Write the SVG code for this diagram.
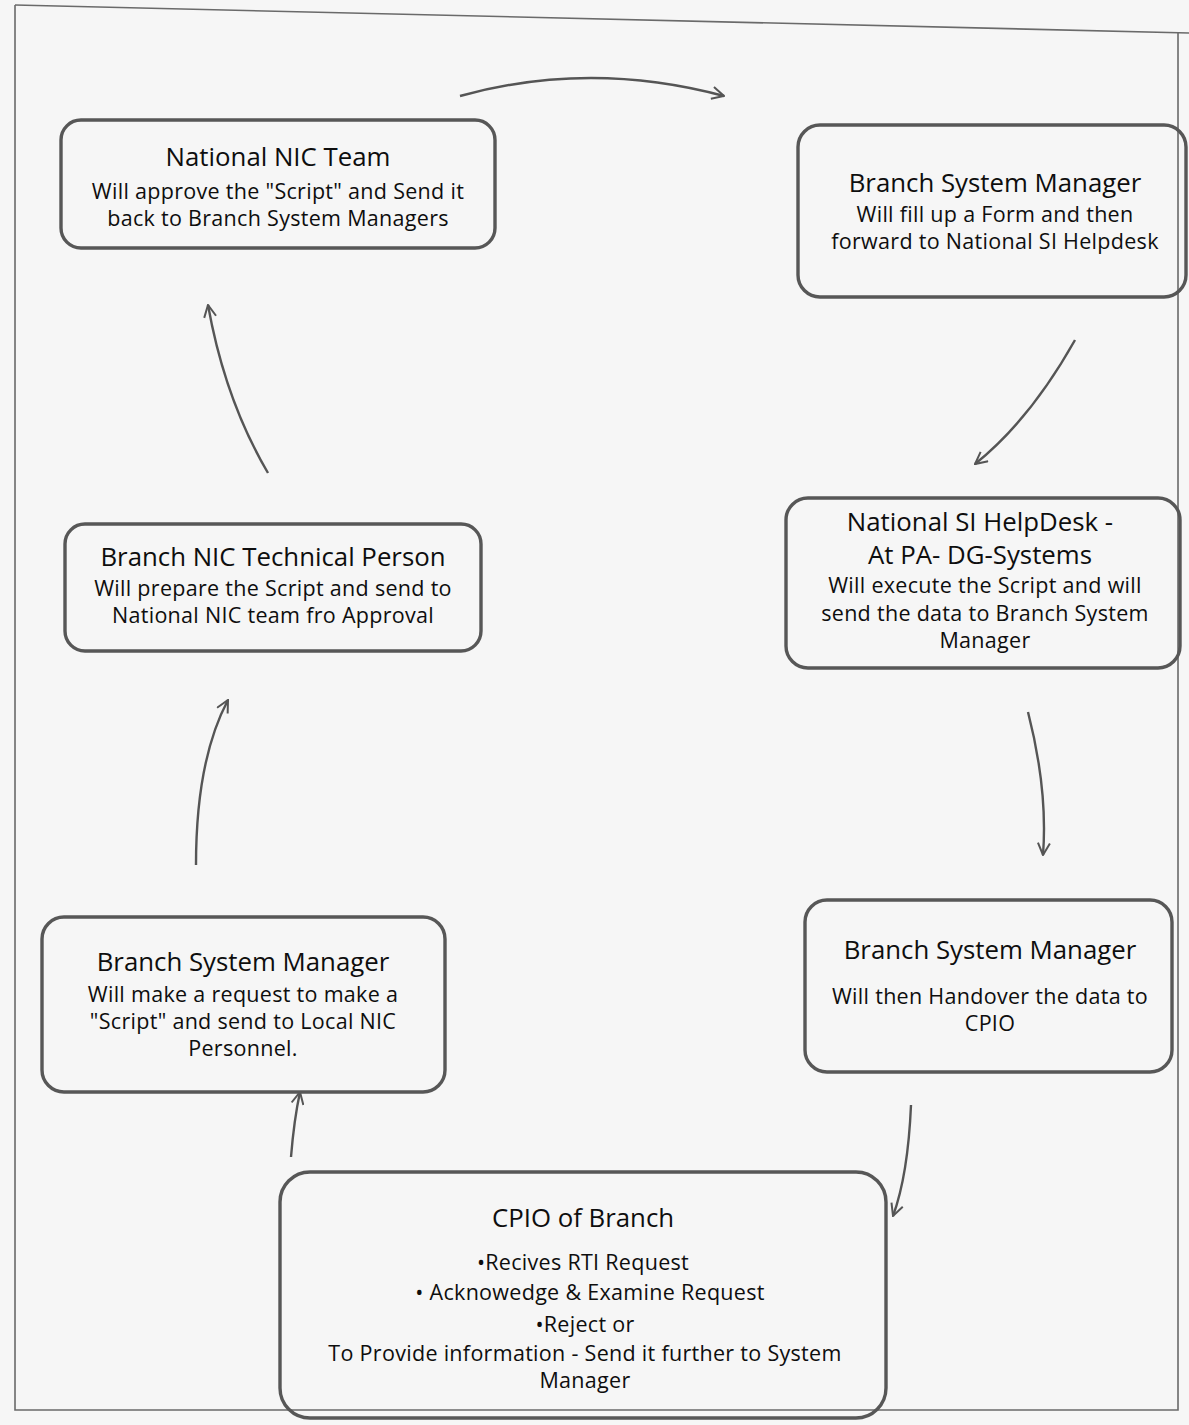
<svg xmlns="http://www.w3.org/2000/svg" width="1189" height="1425" viewBox="0 0 1189 1425">
<defs>
<marker id="ah" viewBox="0 0 14 14" refX="13" refY="7" markerWidth="14" markerHeight="14" markerUnits="userSpaceOnUse" orient="auto">
<path d="M1,1 L13,7 L1,13" fill="none" stroke="#555" stroke-width="2"/>
</marker>
<style>
.box{fill:none;stroke:#575757;stroke-width:3.4}
.t{font-family:"Open Sans","Noto Sans",sans-serif;fill:#0e0e0e;text-anchor:middle}
.h{font-size:25.8px}
.b{font-size:21.5px;letter-spacing:0.3px}
.c{fill:none;stroke:#555;stroke-width:2.4}
.frame{fill:none;stroke:#6a6a6a;stroke-width:1.6}
</style>
</defs>
<rect width="1189" height="1425" fill="#f6f6f6"/>
<g id="frame">
<path class="frame" d="M15,5 L1189,33"/>
<path class="frame" d="M15,5 L15,1410 L1178,1410 L1178,32"/>
</g>
<g id="connectors">
<path class="c" marker-end="url(#ah)" d="M460,96 Q590,60 724,96"/>
<path class="c" marker-end="url(#ah)" d="M1075,340 Q1030,420 975,464"/>
<path class="c" marker-end="url(#ah)" d="M1028,712 Q1048,790 1043,855"/>
<path class="c" marker-end="url(#ah)" d="M911,1105 Q908,1175 893,1216"/>
<path class="c" marker-end="url(#ah)" d="M291,1157 Q294,1120 300,1092"/>
<path class="c" marker-end="url(#ah)" d="M196,865 Q196,760 228,700"/>
<path class="c" marker-end="url(#ah)" d="M268,473 Q225,400 208,305"/>
</g>
<g id="n1">
<rect class="box" x="61" y="120" width="434" height="128" rx="20"/>
<text class="t h" x="278" y="166">National NIC Team</text>
<text class="t b" x="278" y="199">Will approve the "Script" and Send it</text>
<text class="t b" x="278" y="226">back to Branch System Managers</text>
</g>
<g id="n2">
<rect class="box" x="798" y="125" width="388" height="172" rx="22"/>
<text class="t h" x="995" y="192">Branch System Manager</text>
<text class="t b" x="995" y="222">Will  fill up a Form and then</text>
<text class="t b" x="995" y="249">forward to National SI Helpdesk</text>
</g>
<g id="n3">
<rect class="box" x="786" y="498" width="394" height="170" rx="22"/>
<text class="t h" x="980" y="531">National SI HelpDesk -</text>
<text class="t h" x="980" y="564">At PA- DG-Systems</text>
<text class="t b" x="985" y="593">Will execute the Script and will</text>
<text class="t b" x="985" y="621">send the data to Branch System</text>
<text class="t b" x="985" y="648">Manager</text>
</g>
<g id="n4">
<rect class="box" x="65" y="524" width="416" height="127" rx="20"/>
<text class="t h" x="273" y="566">Branch NIC Technical Person</text>
<text class="t b" x="273" y="596">Will prepare the Script and send to</text>
<text class="t b" x="273" y="623">National NIC team fro Approval</text>
</g>
<g id="n5">
<rect class="box" x="42" y="917" width="403" height="175" rx="22"/>
<text class="t h" x="243" y="971">Branch System Manager</text>
<text class="t b" x="243" y="1002">Will make a request to make a</text>
<text class="t b" x="243" y="1029">"Script" and send to Local NIC</text>
<text class="t b" x="243" y="1056">Personnel.</text>
</g>
<g id="n6">
<rect class="box" x="805" y="900" width="367" height="172" rx="22"/>
<text class="t h" x="990" y="959">Branch System Manager</text>
<text class="t b" x="990" y="1004">Will then Handover the data to</text>
<text class="t b" x="990" y="1031">CPIO</text>
</g>
<g id="n7">
<rect class="box" x="280" y="1172" width="606" height="246" rx="30"/>
<text class="t h" x="583" y="1227">CPIO of Branch</text>
<text class="t b" x="583" y="1270">•Recives RTI Request</text>
<text class="t b" x="590" y="1300">• Acknowedge  &amp;  Examine Request</text>
<text class="t b" x="585" y="1332">•Reject or</text>
<text class="t b" x="585" y="1361">To Provide information - Send it further to System</text>
<text class="t b" x="585" y="1388">Manager</text>
</g>
</svg>
